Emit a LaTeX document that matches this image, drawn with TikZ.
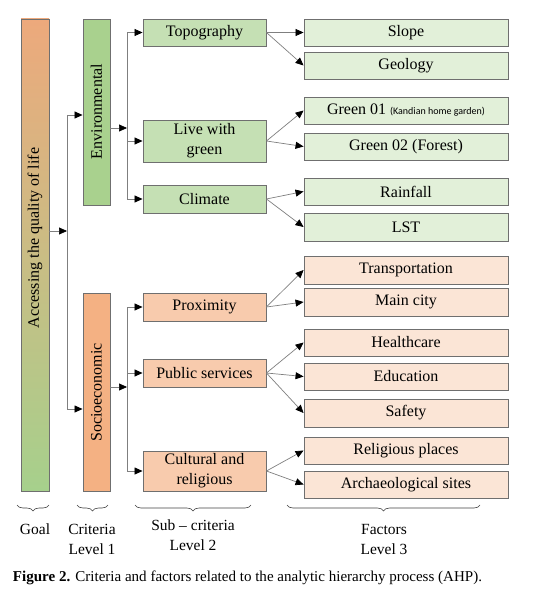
\documentclass[tikz,border=0pt]{standalone}
\usepackage{fontspec}
\setmainfont{Liberation Serif}
\newfontfamily\smallsans{Carlito}
\usetikzlibrary{arrows.meta,decorations.pathreplacing}
\definecolor{envbar}{HTML}{A9D18E}
\definecolor{envsub}{HTML}{C5E0B4}
\definecolor{envfac}{HTML}{E2F0D9}
\definecolor{socbar}{HTML}{F4B183}
\definecolor{socsub}{HTML}{F8CBAD}
\definecolor{socfac}{HTML}{FBE5D6}
\definecolor{goaltop}{HTML}{EDA97C}
\definecolor{goalbot}{HTML}{A6D08C}
\definecolor{boxline}{HTML}{6F6F6F}
\definecolor{conline}{HTML}{7F7F7F}
\tikzset{
  box/.style={draw=boxline, line width=0.9pt, inner sep=0pt, align=center,
    font=\fontsize{16}{20}\selectfont},
  bar/.style={box, minimum width=27pt},
  subbox/.style={box, minimum width=123pt},
  facbox/.style={box, minimum width=204pt},
  arr/.style={draw=conline, line width=0.7pt,
    -{Triangle[color=black,fill=black,length=8pt,width=7pt]}},
  con/.style={draw=conline, line width=0.7pt},
  brc/.style={draw=black!75, line width=0.6pt,
    decorate, decoration={brace, mirror, amplitude=6pt}},
  lvl/.style={align=center, inner sep=0pt, font=\fontsize{15.5}{20}\selectfont},
  vtext/.style={rotate=90, inner sep=0pt, font=\fontsize{16}{20}\selectfont}
}
\begin{document}
\begin{tikzpicture}[x=1pt,y=-1pt]
\useasboundingbox (0,0) rectangle (554,599);
% goal
\node[box, minimum width=28pt, minimum height=472pt, top color=goaltop, bottom color=goalbot] (goal) at (35,255) {};
\node[vtext] (goaltxt) at (35,238) {Accessing the quality of life};
% criteria
\node[bar, minimum height=186pt, fill=envbar] (env) at (96.5,112) {};
\node[vtext] (envtxt) at (96.5,111.5) {Environmental};
\node[bar, minimum height=198pt, fill=socbar] (soc) at (96.5,392) {};
\node[vtext] (soctxt) at (96.5,392.5) {Socioeconomic};
% sub criteria
\node[subbox, minimum height=27pt, fill=envsub] (topo) at (204.5,32.5) {Topography};
\node[subbox, minimum height=42pt, fill=envsub] (live) at (204.5,141) {Live with\\green};
\node[subbox, minimum height=28pt, fill=envsub] (clim) at (204.5,199) {Climate};
\node[subbox, minimum height=28pt, fill=socsub] (prox) at (204.5,307) {Proximity};
\node[subbox, minimum height=28pt, fill=socsub] (pub) at (204.5,373) {Public services};
\node[subbox, minimum height=40pt, fill=socsub] (cult) at (204.5,471) {Cultural and\\religious};
% factors
\node[facbox, minimum height=27pt, fill=envfac] (slope) at (406,32.5) {Slope};
\node[facbox, minimum height=27pt, fill=envfac] (geo) at (406,65.5) {Geology};
\node[facbox, minimum height=27pt, fill=envfac] (g1) at (406,110.5) {Green 01 {\smallsans\fontsize{10}{12}\selectfont (Kandian home garden)}};
\node[facbox, minimum height=27pt, fill=envfac] (g2) at (406,146.5) {Green 02 (Forest)};
\node[facbox, minimum height=27pt, fill=envfac] (rain) at (406,191.5) {Rainfall};
\node[facbox, minimum height=28pt, fill=envfac] (lst) at (406,227) {LST};
\node[facbox, minimum height=28pt, fill=socfac] (trans) at (406,270) {Transportation};
\node[facbox, minimum height=28pt, fill=socfac] (city) at (406,302) {Main city};
\node[facbox, minimum height=27pt, fill=socfac] (health) at (406,342.5) {Healthcare};
\node[facbox, minimum height=27pt, fill=socfac] (edu) at (406,376.5) {Education};
\node[facbox, minimum height=28pt, fill=socfac] (safe) at (406,413) {Safety};
\node[facbox, minimum height=27pt, fill=socfac] (relig) at (406,450.5) {Religious places};
\node[facbox, minimum height=27pt, fill=socfac] (arch) at (406,484.5) {Archaeological sites};
% goal connectors
\coordinate (gj) at (67,231);
\draw[arr] (goal.east |- gj) -- (gj);
\coordinate (gt) at (67,115);
\coordinate (gb) at (67,409);
\draw[con] (gt) -- (gb);
\draw[arr] (gt) -- (env.west |- gt);
\draw[arr] (gb) -- (soc.west |- gb);
% environmental connectors
\coordinate (ej) at (127,128);
\draw[arr] (env.east |- ej) -- (ej);
\draw[con] (ej |- topo.west) -- (ej |- clim.west);
\draw[arr] (ej |- topo.west) -- (topo.west);
\draw[arr] (ej |- live.west) -- (live.west);
\draw[arr] (ej |- clim.west) -- (clim.west);
% socioeconomic connectors
\coordinate (sj) at (127,387);
\draw[arr] (soc.east |- sj) -- (sj);
\draw[con] (sj |- prox.west) -- (sj |- cult.west);
\draw[arr] (sj |- prox.west) -- (prox.west);
\draw[arr] (sj |- pub.west) -- (pub.west);
\draw[arr] (sj |- cult.west) -- (cult.west);
% sub to factor
\draw[arr] (topo.east) -- (slope.west);
\draw[arr] (topo.east) -- (geo.west);
\draw[arr] (live.east) -- (g1.west);
\draw[arr] (live.east) -- (g2.west);
\draw[arr] (clim.east) -- (rain.west);
\draw[arr] (clim.east) -- (lst.west);
\draw[arr] (prox.east) -- (trans.west);
\draw[arr] (prox.east) -- (city.west);
\draw[arr] (pub.east) -- (health.west);
\draw[arr] (pub.east) -- (edu.west);
\draw[arr] (pub.east) -- (safe.west);
\draw[arr] (cult.east) -- (relig.west);
\draw[arr] (cult.east) -- (arch.west);
% braces
\coordinate (b1a) at (17,505); \coordinate (b1b) at (49,505);
\coordinate (b2a) at (77,505); \coordinate (b2b) at (108,505);
\coordinate (b3a) at (135,505); \coordinate (b3b) at (251,505);
\coordinate (b4a) at (287,505); \coordinate (b4b) at (480,505);
\draw[brc] (b1a) -- (b1b);
\draw[brc] (b2a) -- (b2b);
\draw[brc] (b3a) -- (b3b);
\draw[brc] (b4a) -- (b4b);
% level labels
\node[lvl] (lgoal) at (35,529) {Goal};
\node[lvl] (lcrit) at (92,539) {Criteria\\Level 1};
\node[lvl] (lsub) at (193,535) {Sub -- criteria\\Level 2};
\node[lvl] (lfac) at (384,539) {Factors\\Level 3};
% caption
\node[inner sep=0pt] (cap) at (247.5,578) {\resizebox{469pt}{!}{\textbf{Figure 2.} Criteria and factors related to the analytic hierarchy process (AHP).}};
\end{tikzpicture}
\end{document}
